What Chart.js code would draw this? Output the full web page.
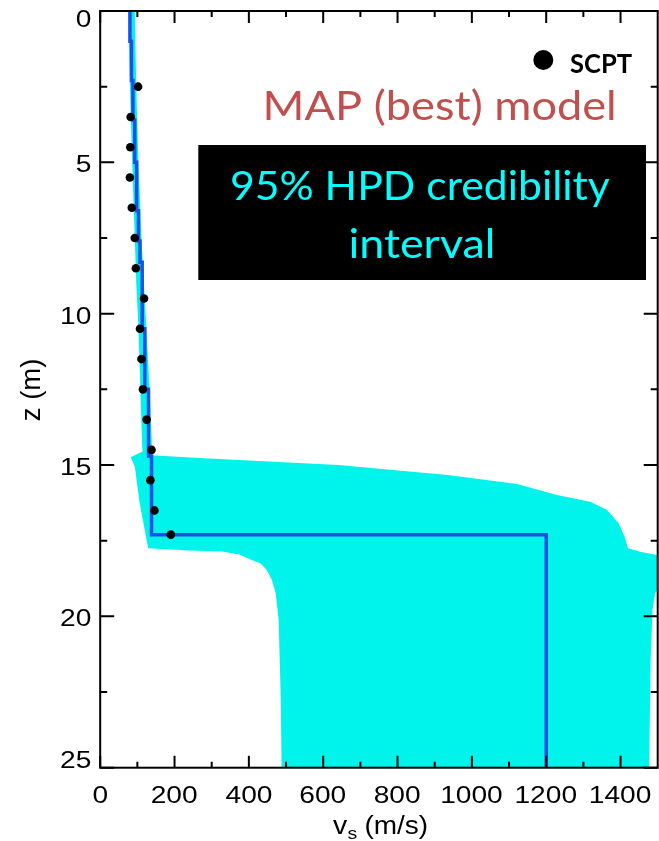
<!DOCTYPE html>
<html>
<head>
<meta charset="utf-8">
<title>Shear-wave velocity profile</title>
<script src="https://cdn.jsdelivr.net/npm/chart.js@4.4.1/dist/chart.umd.min.js"></script>
<style>
  html, body { margin: 0; padding: 0; background: #ffffff; overflow: hidden; }
  #wrap { width: 662px; height: 841px; }
</style>
</head>
<body>
<div id="wrap"><canvas id="c" width="662" height="841"></canvas></div>
<script>
// ---- Seismic cone (SCPT) measurements: depth (m) and Vs (m/s)
const scptDepth = [2.5, 3.5, 4.5, 5.5, 6.5, 7.5, 8.5, 9.5, 10.5, 11.5, 12.5, 13.5, 14.5, 15.5, 16.5, 17.3];
const scptVs    = [102, 82, 81, 80, 85, 93, 96, 118, 107, 111, 115, 125, 138, 135, 146, 190];

// ---- MAP (best) layered model: layer top depth (m) and Vs (m/s)
const mapLayerTop = [0, 1.0, 2.3, 3.6, 5.0, 6.6, 7.6, 8.3, 10.5, 12.5, 14.7, 17.3];
const mapLayerVs  = [80, 84, 88, 93, 98, 103, 107, 113, 120, 130, 138, 1200];
const maxDepth = 25;

// ---- 95% HPD credibility interval: lower (slow) bound, top to bottom
const hpdLowerDepth = [0, 2.5, 5, 7.5, 9, 10.5, 12.5, 14.4, 14.55, 14.74, 15.05, 16.25, 17.75, 17.82, 17.86, 17.96, 18.14, 18.25, 18.47, 18.8, 19.23, 20.1, 22.8, 25];
const hpdLowerVs    = [76, 80, 86, 93, 97, 103, 108, 113, 114, 82, 93, 106, 129, 240, 328, 374, 408, 432, 448, 462, 472, 480, 486, 488];
// upper (fast) bound, top to bottom
const hpdUpperDepth = [0, 2.5, 5, 7.5, 10, 12.5, 14.0, 14.6, 14.68, 14.77, 14.87, 15.0, 15.33, 15.63, 15.99, 16.21, 16.48, 16.91, 17.37, 17.75, 17.87, 18.0, 19.0, 19.23, 19.78, 21.44, 25];
const hpdUpperVs    = [93, 97, 103, 111, 122, 133, 138, 140, 138, 267, 427, 641, 935, 1122, 1229, 1318, 1363, 1394, 1411, 1420, 1456, 1510, 1510, 1493, 1486, 1481, 1477];

// ---- Axis ticks
const xTickValues  = [0, 200, 400, 600, 800, 1000, 1200, 1400];
const xTickLabels  = ['0', '200', '400', '600', '800', '1000', '1200', '1400'];
const xMinorValues = [100, 300, 500, 700, 900, 1100, 1300];
const yTickValues  = [0, 5, 10, 15, 20, 25];
const yTickLabels  = ['0', '5', '10', '15', '20', '25'];
const yMinorValues = [2.5, 7.5, 12.5, 17.5, 22.5];

// Build point lists for the library
const scptPoints = scptDepth.map((z, i) => ({ x: scptVs[i], y: z }));
const mapPoints = [];
mapLayerTop.forEach((top, i) => {
  const bottom = i + 1 < mapLayerTop.length ? mapLayerTop[i + 1] : maxDepth;
  mapPoints.push({ x: mapLayerVs[i], y: top }, { x: mapLayerVs[i], y: bottom });
});
const hpdPolygon = hpdLowerDepth.map((z, i) => ({ x: hpdLowerVs[i], y: z }))
  .concat(hpdUpperDepth.map((z, i) => ({ x: hpdUpperVs[i], y: z })).reverse());

// Text drawn with given cap height; optional ink width or horizontal scale
function drawText(ctx, text, o) {
  ctx.save();
  const weight = o.weight || 'normal';
  ctx.font = `${weight} 100px ${o.family}`;
  const capRatio = ctx.measureText(o.capRef || 'H').actualBoundingBoxAscent / 100;
  const size = o.cap / capRatio;
  ctx.font = `${weight} ${size}px ${o.family}`;
  ctx.textAlign = 'left';
  ctx.textBaseline = 'alphabetic';
  const m = ctx.measureText(text);
  const ink = m.actualBoundingBoxLeft + m.actualBoundingBoxRight;
  const sx = o.width ? o.width / ink : (o.sx || 1);
  ctx.translate(o.x, o.y);
  if (o.rotate) ctx.rotate(o.rotate);
  ctx.scale(sx, 1);
  let dx = m.actualBoundingBoxLeft;
  if (o.align === 'center') dx -= ink / 2;
  else if (o.align === 'right') dx -= ink;
  ctx.fillStyle = o.color || '#000';
  ctx.fillText(text, dx, 0);
  ctx.restore();
}

// Frame with inward ticks on all four sides, tick labels and axis titles
const framePlugin = {
  id: 'frame',
  afterDatasetsDraw(chart) {
    const { ctx, chartArea: a, scales: { x, y } } = chart;
    ctx.save();
    ctx.strokeStyle = '#000';
    ctx.lineWidth = 2;
    ctx.strokeRect(a.left, a.top, a.right - a.left, a.bottom - a.top);
    ctx.beginPath();
    const tickX = (vals, len) => vals.forEach(v => {
      const px = x.getPixelForValue(v);
      ctx.moveTo(px, a.bottom); ctx.lineTo(px, a.bottom - len);
      ctx.moveTo(px, a.top); ctx.lineTo(px, a.top + len);
    });
    const tickY = (vals, len) => vals.forEach(v => {
      const py = y.getPixelForValue(v);
      ctx.moveTo(a.left, py); ctx.lineTo(a.left + len, py);
      ctx.moveTo(a.right, py); ctx.lineTo(a.right - len, py);
    });
    tickX(xTickValues, 12); tickX(xMinorValues, 6);
    tickY(yTickValues, 14); tickY(yMinorValues, 7);
    ctx.stroke();
    ctx.restore();

    const fam = '"Liberation Sans", Arial, sans-serif';
    xTickValues.forEach((v, i) => {
      drawText(ctx, xTickLabels[i], { x: x.getPixelForValue(v), y: 803.3, align: 'center',
        family: fam, cap: 16.7, capRef: '0', sx: 1.18 });
    });
    yTickValues.forEach((v, i) => {
      let cy = y.getPixelForValue(v) + 1.5;
      cy = Math.max(a.top + 7.3, Math.min(a.bottom - 7.7, cy));
      drawText(ctx, yTickLabels[i], { x: 91, y: cy + 8.35, align: 'right',
        family: fam, cap: 16.7, capRef: '0', sx: 1.18 });
    });
    // axis titles
    drawText(ctx, 'z (m)', { x: 39.5, y: 390, align: 'center', rotate: -Math.PI / 2,
      family: fam, cap: 19, sx: 1.0 });
    drawText(ctx, 'v', { x: 333, y: 834, align: 'left', family: fam, cap: 17.5, sx: 1.12 });
    drawText(ctx, 's', { x: 347.5, y: 839, align: 'left', family: fam, cap: 12, sx: 1.12 });
    drawText(ctx, '(m/s)', { x: 365.5, y: 834, align: 'left', family: fam, cap: 17.5, width: 61 });
  },
  afterDraw(chart) {
    const { ctx } = chart;
    const cal = 'Lato, "Open Sans", sans-serif';
    // SCPT legend entry
    ctx.save();
    ctx.fillStyle = '#000';
    ctx.beginPath();
    ctx.arc(543.3, 60, 10, 0, Math.PI * 2);
    ctx.fill();
    ctx.restore();
    drawText(ctx, 'SCPT', { x: 570, y: 72.7, align: 'left', family: cal, weight: 'bold', cap: 19.5, width: 62, color: '#000' });
    drawText(ctx, 'MAP (best) model', { x: 266, y: 119.5, align: 'left', family: cal, cap: 29.3, width: 348, color: '#C0504D' });
    // credibility interval label box
    ctx.save();
    ctx.fillStyle = '#000';
    ctx.fillRect(198.3, 145, 646 - 198.3, 280 - 145);
    ctx.restore();
    drawText(ctx, '95% HPD credibility', { x: 421, y: 199.5, align: 'center', family: cal, cap: 29.5, width: 378, color: '#00FFFF' });
    drawText(ctx, 'interval', { x: 421.7, y: 258.3, align: 'center', family: cal, cap: 29.5, capRef: 'l', width: 142, color: '#00FFFF' });
  }
};

new Chart(document.getElementById('c'), {
  type: 'scatter',
  data: {
    datasets: [
      {
        label: 'SCPT',
        data: scptPoints,
        showLine: false,
        pointRadius: 4.3,
        pointBackgroundColor: '#000',
        pointBorderWidth: 0,
        order: 0
      },
      {
        label: 'MAP (best) model',
        data: mapPoints,
        showLine: true,
        borderColor: '#1A4FE8',
        borderWidth: 3.5,
        pointRadius: 0,
        tension: 0,
        fill: false,
        order: 1
      },
      {
        label: '95% HPD credibility interval',
        data: hpdPolygon,
        showLine: true,
        borderWidth: 0,
        borderColor: 'rgba(0,0,0,0)',
        backgroundColor: '#00F4EC',
        pointRadius: 0,
        tension: 0,
        fill: 'shape',
        order: 2
      }
    ]
  },
  options: {
    responsive: false,
    animation: false,
    devicePixelRatio: 1,
    layout: { padding: { left: 100.2, top: 11, right: 0.6, bottom: 73.3 } },
    plugins: { legend: { display: false }, tooltip: { enabled: false } },
    scales: {
      x: { type: 'linear', min: 0, max: 1500, display: false },
      y: { type: 'linear', min: 0, max: maxDepth, reverse: true, display: false }
    }
  },
  plugins: [framePlugin]
});
</script>
</body>
</html>
